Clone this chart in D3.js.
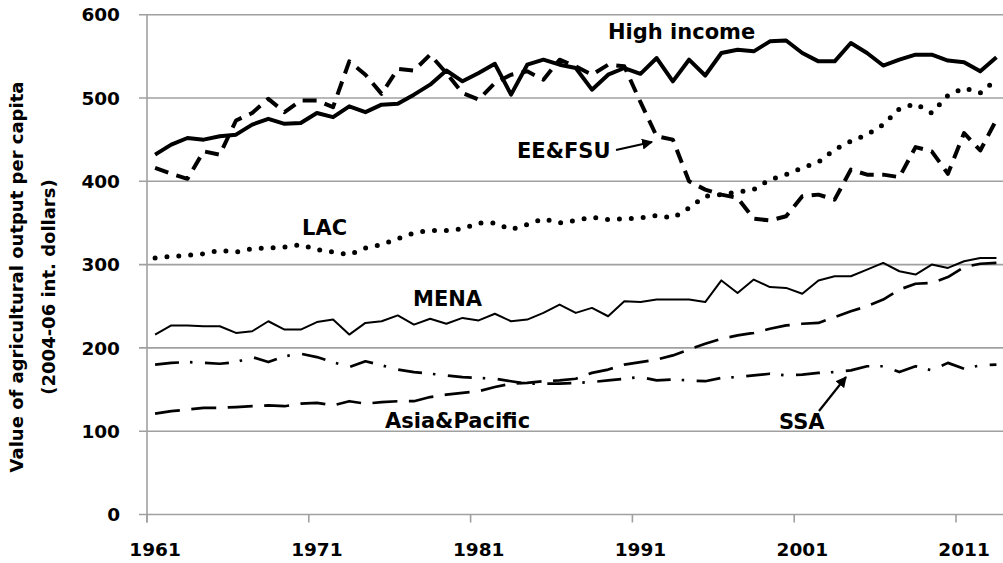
<!DOCTYPE html>
<html lang="en">
<head>
<meta charset="utf-8">
<title>Agricultural output per capita</title>
<script src="https://d3js.org/d3.v7.min.js"></script>
<style>
  body { margin: 0; background: #fff; }
  svg text { font-family: "DejaVu Sans", sans-serif; font-weight: bold; fill: #000; }
</style>
</head>
<body>
<div id="chart"></div>
<script>
// years 1961-2013
const years = d3.range(1961, 2014);
const labelYears = [1961, 1971, 1981, 1991, 2001, 2011];
const yTicks = [0, 100, 200, 300, 400, 500, 600];

const highIncome = [432, 444, 452, 450, 454, 456, 468, 475, 469, 470,
  482, 477, 490, 483, 492, 493, 504, 516, 533, 520,
  530, 541, 504, 540, 546, 540, 536, 510, 528, 536,
  529, 548, 520, 546, 527, 554, 558, 556, 568, 569,
  554, 544, 544, 566, 554, 539, 546, 552, 552, 545,
  543, 532, 549];
const eeFsu = [416, 409, 403, 436, 432, 473, 482, 499, 483, 497,
  497, 489, 544, 528, 505, 535, 533, 552, 530, 506,
  498, 518, 528, 532, 522, 546, 538, 528, 540, 538,
  495, 454, 450, 400, 390, 384, 380, 355, 353, 358,
  382, 384, 378, 414, 408, 408, 405, 441, 436, 409,
  458, 437, 474];
const lac = [308, 310, 311, 313, 317, 315, 319, 320, 321, 324,
  318, 315, 312, 320, 324, 331, 338, 341, 341, 343,
  350, 350, 342, 348, 355, 350, 353, 357, 354, 355,
  356, 359, 356, 368, 382, 384, 387, 390, 402, 408,
  416, 423, 438, 448, 456, 468, 487, 493, 482, 503,
  512, 506, 522];
const mena = [216, 227, 227, 226, 226, 218, 220, 232, 222, 222,
  231, 234, 216, 230, 232, 239, 228, 235, 229, 236,
  233, 241, 232, 234, 242, 252, 242, 248, 238, 256,
  255, 258, 258, 258, 255, 281, 266, 282, 273, 272,
  265, 281, 286, 286, 294, 302, 292, 288, 300, 296,
  304, 308, 308];
const asiaPacific = [121, 124, 126, 128, 128, 129, 130, 131, 130, 133,
  134, 131, 136, 133, 135, 136, 136, 141, 144, 146,
  148, 153, 157, 158, 160, 161, 163, 170, 174, 180,
  183, 186, 191, 198, 205, 211, 215, 218, 223, 227,
  229, 230, 237, 244, 250, 258, 270, 277, 278, 285,
  297, 301, 302];
const ssa = [180, 182, 183, 182, 181, 183, 189, 183, 190, 193,
  189, 183, 177, 184, 179, 174, 171, 169, 167, 165,
  164, 163, 160, 157, 157, 157, 158, 159, 161, 163,
  165, 161, 162, 161, 160, 164, 165, 167, 169, 167,
  168, 170, 171, 173, 178, 178, 171, 178, 173, 182,
  175, 179, 180];

const width = 1003, height = 563;
const plot = { left: 147, right: 147 + 53 * 16.18, top: 14.7, bottom: 514.5 };

const svg = d3.select("#chart").append("svg")
  .attr("width", width)
  .attr("height", height);

// scales
const x = d3.scaleBand().domain(years).range([plot.left, plot.right]).padding(0);
const y = d3.scaleLinear().domain([0, 600]).range([plot.bottom, plot.top]);
const cx = d => x(d) + x.bandwidth() / 2;

// gridlines + y ticks
svg.append("g")
  .selectAll("line")
  .data(yTicks)
  .join("line")
  .attr("x1", plot.left - 8)
  .attr("x2", plot.right)
  .attr("y1", d => y(d))
  .attr("y2", d => y(d))
  .attr("stroke", "#a0a0a0")
  .attr("stroke-width", 1.6);

// y axis line
svg.append("line")
  .attr("x1", plot.left).attr("x2", plot.left)
  .attr("y1", plot.top).attr("y2", plot.bottom + 8)
  .attr("stroke", "#a0a0a0").attr("stroke-width", 1.6);

// x tick marks (between categories)
svg.append("g")
  .selectAll("line")
  .data(labelYears)
  .join("line")
  .attr("x1", d => x(d)).attr("x2", d => x(d))
  .attr("y1", plot.bottom).attr("y2", plot.bottom + 8)
  .attr("stroke", "#a0a0a0").attr("stroke-width", 1.6);

// y tick labels
svg.append("g")
  .selectAll("text")
  .data(yTicks)
  .join("text")
  .attr("x", 120)
  .attr("y", d => y(d))
  .attr("dy", "0.36em")
  .attr("text-anchor", "end")
  .style("font-size", "18.5px")
  .text(d => d);

// x tick labels
svg.append("g")
  .selectAll("text")
  .data(labelYears)
  .join("text")
  .attr("x", d => cx(d))
  .attr("y", 556)
  .attr("text-anchor", "middle")
  .style("font-size", "18.5px")
  .text(d => d);

// axis title
svg.append("text")
  .attr("transform", "translate(23,277) rotate(-90)")
  .attr("text-anchor", "middle")
  .style("font-size", "18px")
  .text("Value of agricultural output per capita");
svg.append("text")
  .attr("transform", "translate(55,287) rotate(-90)")
  .attr("text-anchor", "middle")
  .style("font-size", "18px")
  .text("(2004-06 int. dollars)");

// series
const series = [
  { name: "SSA", values: ssa, width: 2.7, dash: "24,11,2.5,12.5", cap: "butt" },
  { name: "Asia&Pacific", values: asiaPacific, width: 2.7, dash: "25,11.5", cap: "butt" },
  { name: "MENA", values: mena, width: 2, dash: null, cap: "butt" },
  { name: "LAC", values: lac, width: 5, dash: "0,11.9", cap: "round" },
  { name: "EE&FSU", values: eeFsu, width: 4, dash: "14,8.5", cap: "butt" },
  { name: "High income", values: highIncome, width: 4, dash: null, cap: "butt" }
];

const line = d3.line()
  .x((d, i) => cx(years[i]))
  .y(d => y(d));

svg.append("g")
  .selectAll("path")
  .data(series)
  .join("path")
  .attr("d", d => line(d.values))
  .attr("fill", "none")
  .attr("stroke", "#000")
  .attr("stroke-width", d => d.width)
  .attr("stroke-dasharray", d => d.dash)
  .attr("stroke-linecap", d => d.cap)
  .attr("stroke-linejoin", "round");

// arrow marker
svg.append("defs").append("marker")
  .attr("id", "arrow")
  .attr("viewBox", "0 0 10 10")
  .attr("refX", 9).attr("refY", 5)
  .attr("markerWidth", 5).attr("markerHeight", 5)
  .attr("markerUnits", "strokeWidth")
  .attr("orient", "auto")
  .append("path")
  .attr("d", "M0,0L10,5L0,10Z")
  .attr("fill", "#000");

// labels
const labels = [
  { text: "High income", x: 608, y: 39 },
  { text: "EE&FSU", x: 517, y: 158 },
  { text: "LAC", x: 302, y: 235 },
  { text: "MENA", x: 413, y: 306 },
  { text: "Asia&Pacific", x: 385, y: 428 },
  { text: "SSA", x: 779, y: 429 }
];
svg.append("g")
  .selectAll("text")
  .data(labels)
  .join("text")
  .attr("x", d => d.x)
  .attr("y", d => d.y)
  .style("font-size", "21px")
  .text(d => d.text);

const arrows = [
  { x1: 616, y1: 150, x2: 652, y2: 142 },
  { x1: 819, y1: 411, x2: 846, y2: 377 }
];
svg.append("g")
  .selectAll("line")
  .data(arrows)
  .join("line")
  .attr("x1", d => d.x1).attr("y1", d => d.y1)
  .attr("x2", d => d.x2).attr("y2", d => d.y2)
  .attr("stroke", "#000")
  .attr("stroke-width", 2.2)
  .attr("marker-end", "url(#arrow)");
</script>
</body>
</html>
